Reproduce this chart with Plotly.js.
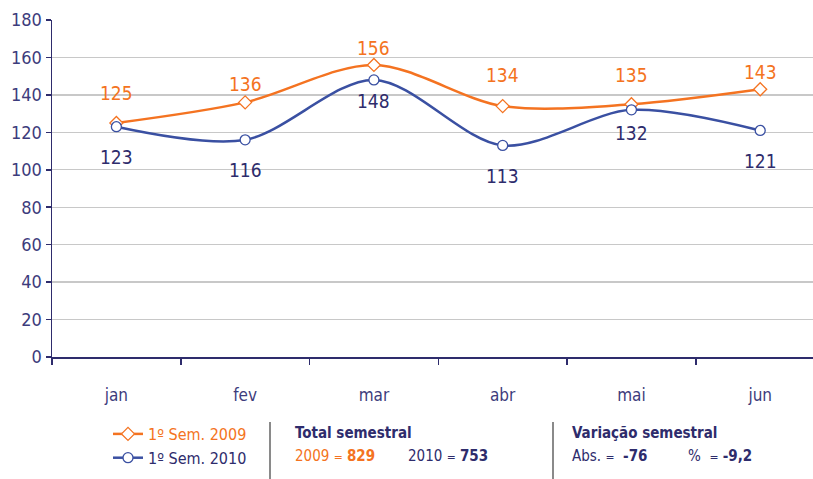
<!DOCTYPE html>
<html>
<head>
<meta charset="utf-8">
<script src="https://cdn.plot.ly/plotly-3.0.1.min.js"></script>
<style>
  html, body { margin: 0; padding: 0; background: #fff; }
  #chart { width: 813px; height: 479px; }
</style>
</head>
<body>
<div id="chart"></div>
<script>
// data
const months = ['jan', 'fev', 'mar', 'abr', 'mai', 'jun'];
const sem2009 = [125, 136, 156, 134, 135, 143];
const sem2010 = [123, 116, 148, 113, 132, 121];
const name2009 = '1º Sem. 2009';
const name2010 = '1º Sem. 2010';
const total2009 = 829;
const total2010 = 753;
const varAbs = '-76';
const varPct = '-9,2';

// value label offsets (px) from each point
const shift2009 = [30, 18, 17, 31, 29, 17];
const shift2010 = [-30, -30, -21, -31, -23, -31];

const FONT = '"Liberation Sans Narrow", "Arial Narrow", "DejaVu Sans Condensed", sans-serif';
const ORANGE = '#F47321';
const BLUE = '#3A50A2';
const NAVY = '#2E2C6C';
const TICK = '#3D3C7C';

// pixel helpers for the area below the plot
const L = 52, T = 20, W = 761, H = 337;
const px = x => (x - L) / W;
const py = y => (T + H - y) / H;

const traces = [
    {
        x: months, y: sem2009, name: '<span style="color:' + ORANGE + '">' + name2009 + '</span>',
        type: 'scatter', mode: 'lines+markers',
        line: { color: ORANGE, width: 2.5, shape: 'spline', smoothing: 0.9 },
        marker: { symbol: 'diamond', size: 10, color: '#fff', line: { color: ORANGE, width: 1.3 } },
        hoverinfo: 'x+y'
    },
    {
        x: months, y: sem2010, name: '<span style="color:' + NAVY + '">' + name2010 + '</span>',
        type: 'scatter', mode: 'lines+markers',
        line: { color: BLUE, width: 2.5, shape: 'spline', smoothing: 0.9 },
        marker: { symbol: 'circle', size: 10, color: '#fff', line: { color: BLUE, width: 1.3 } },
        hoverinfo: 'x+y'
    }
];

const annotations = [];
months.forEach((m, i) => {
    annotations.push({
        x: m, y: sem2009[i], text: String(sem2009[i]), showarrow: false,
        yshift: shift2009[i], font: { family: FONT, size: 19, color: ORANGE }
    });
    annotations.push({
        x: m, y: sem2010[i], text: String(sem2010[i]), showarrow: false,
        yshift: shift2010[i], font: { family: FONT, size: 19, color: NAVY }
    });
});

const boxFont = { family: FONT, size: 15, color: NAVY };
const bottomText = [
    { x: 293, y: 433, text: '<b>Total semestral</b>' },
    { x: 293, y: 456, text: '<span style="color:' + ORANGE + '">2009 <span style="font-size:12px">=</span> <b>' + total2009 + '</b></span>' },
    { x: 406, y: 456, text: '2010 <span style="font-size:12px">=</span> <b>' + total2010 + '</b>' },
    { x: 570, y: 433, text: '<b>Variação semestral</b>' },
    { x: 570, y: 456, text: 'Abs. <span style="font-size:12px">=</span>  <b>' + varAbs + '</b>' },
    { x: 686, y: 456, text: '%  <span style="font-size:12px">=</span> <b>' + varPct + '</b>' }
];
bottomText.forEach(t => annotations.push({
    xref: 'paper', yref: 'paper', x: px(t.x), y: py(t.y), xanchor: 'left', yanchor: 'middle',
    text: t.text, showarrow: false, font: boxFont
}));

const shapes = [270, 553].map(x => ({
    type: 'line', xref: 'paper', yref: 'paper',
    x0: px(x), x1: px(x), y0: py(422), y1: py(479),
    line: { color: '#8a8a8a', width: 2 }
}));

const layout = {
    width: 813, height: 479,
    margin: { l: L, r: 0, t: T, b: 479 - T - H },
    paper_bgcolor: '#fff', plot_bgcolor: '#fff',
    font: { family: FONT, color: TICK },
    showlegend: true,
    legend: {
        x: px(108), y: py(417), xanchor: 'left', yanchor: 'top',
        font: { family: FONT, size: 16, color: NAVY },
        bgcolor: 'rgba(0,0,0,0)', itemwidth: 30, tracegroupgap: 0
    },
    xaxis: {
        type: 'category', range: [-0.5, 5.41],
        showgrid: false, zeroline: false,
        showline: true, linecolor: NAVY, linewidth: 1.5,
        ticks: 'outside', tickson: 'boundaries', ticklen: 6, tickcolor: NAVY, tickwidth: 1.5,
        ticklabelstandoff: 22,
        tickfont: { family: FONT, size: 17, color: TICK }
    },
    yaxis: {
        range: [0, 180], dtick: 20, tick0: 0,
        showgrid: true, gridcolor: '#c8c8c8', gridwidth: 1.3, zeroline: false,
        showline: true, linecolor: NAVY, linewidth: 1.5,
        ticks: 'outside', ticklen: 5, tickcolor: NAVY, tickwidth: 1.5,
        tickfont: { family: FONT, size: 18, color: TICK }
    },
    annotations: annotations,
    shapes: shapes
};

Plotly.newPlot('chart', traces, layout, { displayModeBar: false, staticPlot: true });
</script>
</body>
</html>
